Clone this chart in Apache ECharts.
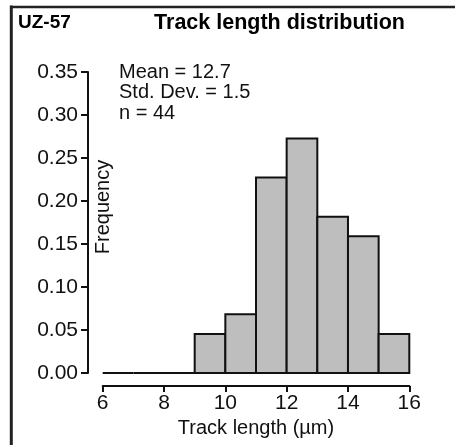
<!DOCTYPE html>
<html>
<head>
<meta charset="utf-8">
<script src="https://cdn.jsdelivr.net/npm/echarts@6/dist/echarts.min.js"></script>
<style>
  html, body { margin: 0; padding: 0; background: #ffffff; }
  #chart { width: 455px; height: 445px; }
</style>
</head>
<body>
<div id="chart"></div>
<script>
// Track length histogram: 1 µm bins from 6 to 16 µm
const binEdges = [6, 7, 8, 9, 10, 11, 12, 13, 14, 15, 16];
const binCounts = [0, 0, 0, 2, 3, 10, 12, 8, 7, 2];
const sampleName = 'UZ-57';
const chartTitle = 'Track length distribution';
const statLines = ['Mean = 12.7', 'Std. Dev. = 1.5', 'n = 44'];
const nTracks = 44;
const xTicks = [6, 8, 10, 12, 14, 16];
const yTicks = [0.00, 0.05, 0.10, 0.15, 0.20, 0.25, 0.30, 0.35];

const FONT = '"Liberation Sans", Arial, Helvetica, sans-serif';

// [left edge, right edge, relative frequency]
const bins = binCounts.map((c, i) => [binEdges[i], binEdges[i + 1], c / nTracks]);

const chart = echarts.init(document.getElementById('chart'), null, { renderer: 'canvas' });

chart.setOption({
  animation: false,
  backgroundColor: '#ffffff',
  grid: {
    left: 102.7, right: 45.7, top: 72, bottom: 72,
    containLabel: false, outerBoundsMode: 'none'
  },
  xAxis: {
    type: 'value',
    min: xTicks[0],
    max: xTicks[xTicks.length - 1],
    interval: xTicks[1] - xTicks[0],
    offset: 13,
    splitLine: { show: false },
    axisLine: { show: true, onZero: false, lineStyle: { color: '#111', width: 2 } },
    axisTick: { show: true, length: 6, lineStyle: { color: '#111', width: 2 } },
    axisLabel: { color: '#111', fontFamily: FONT, fontSize: 21, margin: 7 },
    name: 'Track length (µm)',
    nameLocation: 'middle',
    nameGap: 32,
    nameTextStyle: { color: '#111', fontFamily: FONT, fontSize: 20 }
  },
  yAxis: {
    type: 'value',
    min: yTicks[0],
    max: yTicks[yTicks.length - 1],
    interval: yTicks[1] - yTicks[0],
    offset: 14.7,
    splitLine: { show: false },
    axisLine: { show: true, onZero: false, lineStyle: { color: '#111', width: 2 } },
    axisTick: { show: true, length: 7, lineStyle: { color: '#111', width: 2 } },
    axisLabel: {
      color: '#111', fontFamily: FONT, fontSize: 21, margin: 10,
      formatter: v => v.toFixed(2)
    }
  },
  series: [{
    type: 'custom',
    data: bins,
    encode: { x: [0, 1], y: 2 },
    renderItem: (params, api) => {
      const p0 = api.coord([api.value(0), 0]);
      const p1 = api.coord([api.value(1), api.value(2)]);
      return {
        type: 'rect',
        shape: { x: p0[0], y: p1[1], width: p1[0] - p0[0], height: p0[1] - p1[1] },
        style: { fill: '#bebebe', stroke: '#111', lineWidth: 2 }
      };
    }
  }],
  graphic: [
    // panel frame: left and top rules
    { type: 'line', shape: { x1: 11.3, y1: 5.5, x2: 11.3, y2: 445 }, style: { stroke: '#222', lineWidth: 3 } },
    { type: 'line', shape: { x1: 10, y1: 7, x2: 455, y2: 7 }, style: { stroke: '#222', lineWidth: 2.5 } },
    {
      type: 'text', x: 18, y: 23,
      style: { text: sampleName, fill: '#000', font: 'bold 19px ' + FONT, textAlign: 'left', textVerticalAlign: 'middle' }
    },
    {
      type: 'text', x: 279.5, y: 23,
      style: { text: chartTitle, fill: '#000', font: 'bold 21.5px ' + FONT, textAlign: 'center', textVerticalAlign: 'middle' }
    },
    {
      type: 'text', x: 103, y: 207, rotation: Math.PI / 2,
      style: { text: 'Frequency', fill: '#111', font: '20px ' + FONT, textAlign: 'center', textVerticalAlign: 'middle' }
    },
    ...statLines.map((t, i) => ({
      type: 'text', x: 119, y: 72 + i * 20.7,
      style: { text: t, fill: '#111', font: '20px ' + FONT, textAlign: 'left', textVerticalAlign: 'middle' }
    }))
  ]
});
</script>
</body>
</html>
